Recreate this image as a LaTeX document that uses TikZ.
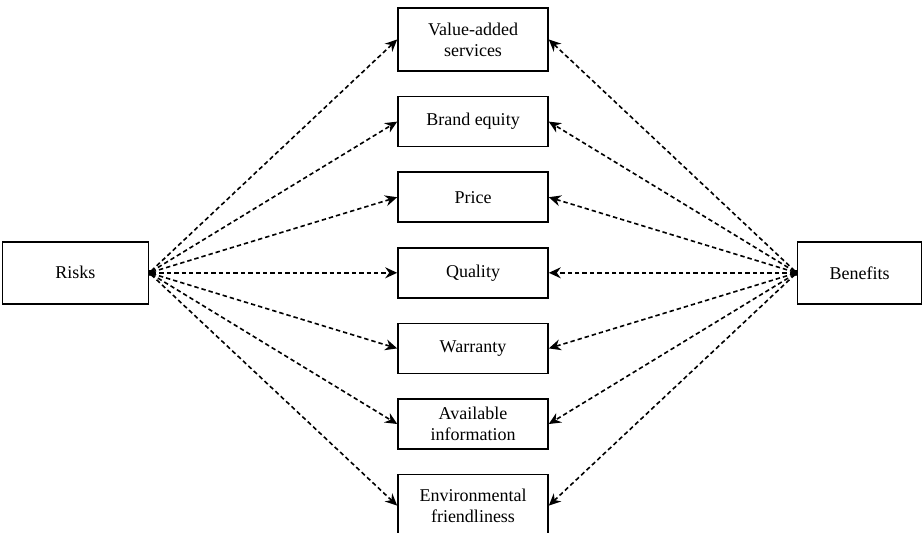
\documentclass[tikz,border=0pt]{standalone}
\usepackage{fontspec}
\setmainfont{Liberation Serif}
\usetikzlibrary{positioning, arrows.meta}
\tikzset{
    factor/.style={
        rectangle,
        draw,
        line width=0.8pt,
        minimum width=75pt,
        minimum height=25pt,
        align=center,
        font=\fontsize{9}{10.5}\selectfont
    },
    side/.style={
        factor,
        minimum height=31pt
    },
    link/.style={
        {Circle[length=1.8pt]}-{Stealth[length=6pt,width=5.5pt,inset=2pt]},
        line width=0.8pt,
        dash pattern=on 2.2pt off 1.5pt
    }
}

\begin{document}
\begin{tikzpicture}[node distance=12pt]
    \useasboundingbox (0,0) rectangle (461pt,-266pt);

    % middle column
    \node[factor, minimum height=31.5pt] (value) at (236.5pt,-19.75pt) {Value-added\\services};
    \node[factor, below=of value] (brand) {Brand equity};
    \node[factor, below=of brand] (price) {Price};
    \node[factor, below=of price] (quality) {Quality};
    \node[factor, below=of quality] (warranty) {Warranty};
    \node[factor, below=of warranty] (info) {Available\\information};
    \node[factor, minimum height=31pt, below=of info] (green) {Environmental\\friendliness};

    % left and right
    \node[side, minimum width=73pt, left=124pt of quality] (risks) {Risks};
    \node[side, minimum width=62pt, right=124pt of quality] (benefits) {Benefits};

    % Risks
    \draw[link] (risks.east) -- (value.west);
    \draw[link] (risks.east) -- (brand.west);
    \draw[link] (risks.east) -- (price.west);
    \draw[link] (risks.east) -- (quality.west);
    \draw[link] (risks.east) -- (warranty.west);
    \draw[link] (risks.east) -- (info.west);
    \draw[link] (risks.east) -- (green.west);

    % Benefits
    \draw[link] (benefits.west) -- (value.east);
    \draw[link] (benefits.west) -- (brand.east);
    \draw[link] (benefits.west) -- (price.east);
    \draw[link] (benefits.west) -- (quality.east);
    \draw[link] (benefits.west) -- (warranty.east);
    \draw[link] (benefits.west) -- (info.east);
    \draw[link] (benefits.west) -- (green.east);
\end{tikzpicture}
\end{document}
